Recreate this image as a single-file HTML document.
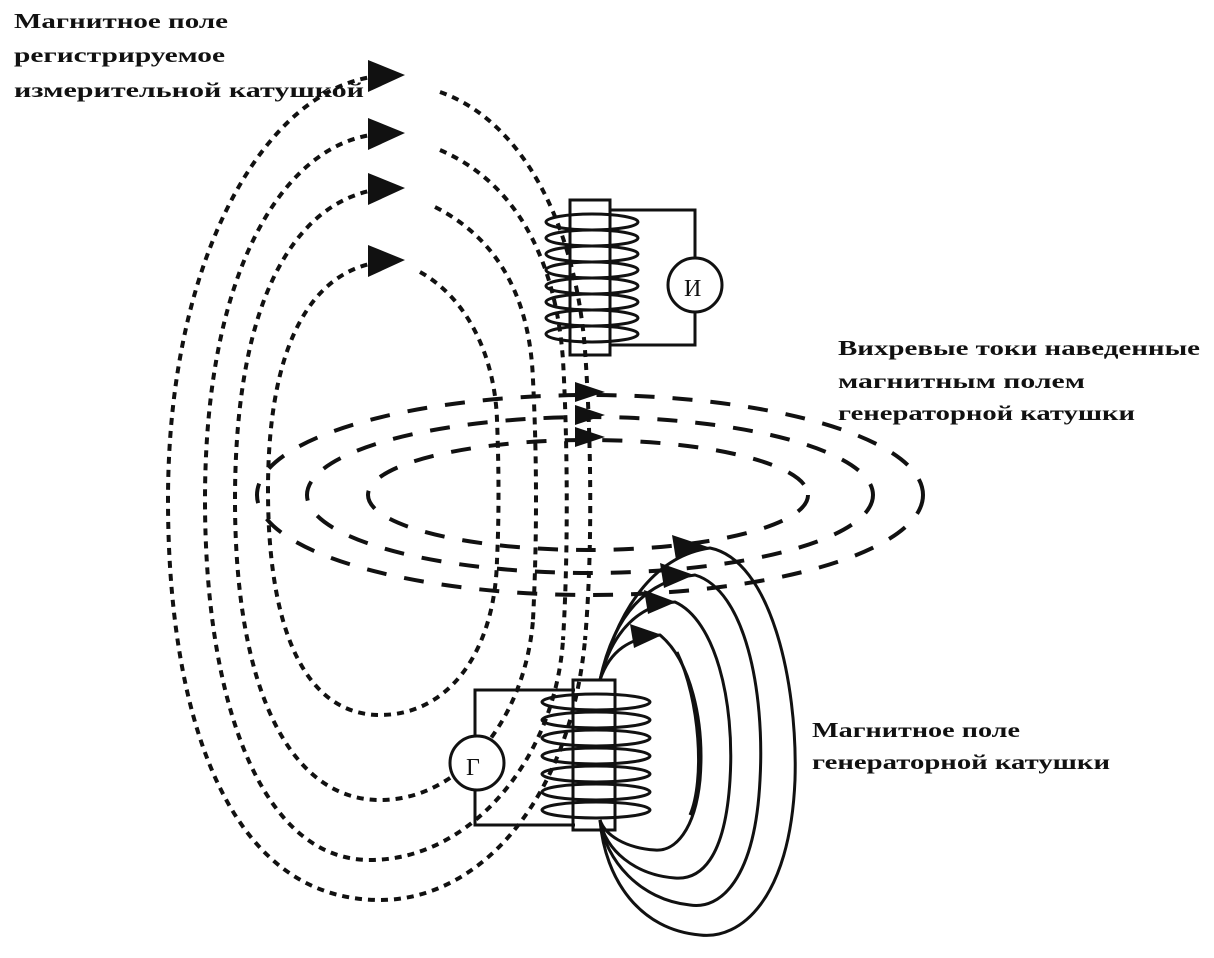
<!DOCTYPE html>
<html><head><meta charset="utf-8"><style>
html,body{margin:0;padding:0;background:#fff}
svg{display:block}
text{font-family:"Liberation Serif","DejaVu Serif",serif;font-weight:bold;font-size:21px;fill:#111}
</style></head><body>
<svg width="1214" height="958" viewBox="0 0 1214 958" xmlns="http://www.w3.org/2000/svg">
<rect width="1214" height="958" fill="#fff"/>
<text x="14" y="28" textLength="214" lengthAdjust="spacingAndGlyphs">Магнитное поле</text>
<text x="14" y="62" textLength="211" lengthAdjust="spacingAndGlyphs">регистрируемое</text>
<text x="14" y="97" textLength="350" lengthAdjust="spacingAndGlyphs">измерительной  катушкой</text>
<text x="838" y="355" textLength="362" lengthAdjust="spacingAndGlyphs">Вихревые токи наведенные</text>
<text x="838" y="388" textLength="247" lengthAdjust="spacingAndGlyphs">магнитным полем</text>
<text x="838" y="420" textLength="297" lengthAdjust="spacingAndGlyphs">генераторной катушки</text>
<text x="812" y="737" textLength="208" lengthAdjust="spacingAndGlyphs">Магнитное поле</text>
<text x="812" y="769" textLength="298" lengthAdjust="spacingAndGlyphs">генераторной катушки</text>

<g fill="none" stroke="#111" stroke-width="4" stroke-dasharray="20 18">
<ellipse cx="590" cy="495" rx="333" ry="100"/>
<ellipse cx="590" cy="495" rx="283" ry="78"/>
<ellipse cx="588" cy="495" rx="220" ry="55"/>
</g>

<g fill="none" stroke="#111" stroke-width="4" stroke-dasharray="7 6">
<path d="M380 76 C270 85 168 250 168 500 C168 700 220 900 380 900 C480 900 570 800 585 640"/>
<path d="M440 92 C520 120 575 220 585 350 C592 450 592 560 585 640"/>
<path d="M380 134 C290 140 205 260 205 500 C205 700 260 860 370 860 C470 860 555 760 563 640"/>
<path d="M440 150 C510 180 555 250 563 360 C568 450 568 560 563 640"/>
<path d="M380 189 C300 200 235 290 235 500 C235 690 290 800 380 800 C460 800 525 720 533 620"/>
<path d="M435 207 C500 240 530 300 533 380 C537 460 537 540 533 620"/>
<path d="M380 262 C320 270 268 330 268 490 C268 640 310 715 380 715 C450 715 495 650 497 560"/>
<path d="M420 272 C470 300 495 360 497 420 C499 470 499 520 497 560"/>
</g>
<g fill="#111">
<polygon points="368,60 405,75 368,92"/>
<polygon points="368,118 405,133 368,150"/>
<polygon points="368,173 405,188 368,205"/>
<polygon points="368,245 405,260 368,277"/>
<polygon points="575,382 605,392 575,402"/>
<polygon points="575,405 605,415 575,425"/>
<polygon points="575,427 605,437 575,447"/>
</g>

<g fill="none" stroke="#111" stroke-width="3">
<rect x="570" y="200" width="40" height="155"/>
<path d="M610 210 H695 V258 M695 312 V345 H610"/>
<circle cx="695" cy="285" r="27"/>
<ellipse cx="592" cy="222" rx="46" ry="8"/>
<ellipse cx="592" cy="238" rx="46" ry="8"/>
<ellipse cx="592" cy="254" rx="46" ry="8"/>
<ellipse cx="592" cy="270" rx="46" ry="8"/>
<ellipse cx="592" cy="286" rx="46" ry="8"/>
<ellipse cx="592" cy="302" rx="46" ry="8"/>
<ellipse cx="592" cy="318" rx="46" ry="8"/>
<ellipse cx="592" cy="334" rx="46" ry="8"/>
</g>
<text x="684" y="296" style="font-size:24px;font-weight:normal">И</text>

<g fill="none" stroke="#111" stroke-width="3">
<rect x="573" y="680" width="42" height="150"/>
<path d="M575 690 H475 V737 M475 790 V825 H575"/>
<circle cx="477" cy="763" r="27" fill="#fff"/>
<ellipse cx="596" cy="702" rx="54" ry="8"/>
<ellipse cx="596" cy="720" rx="54" ry="8"/>
<ellipse cx="596" cy="738" rx="54" ry="8"/>
<ellipse cx="596" cy="756" rx="54" ry="8"/>
<ellipse cx="596" cy="774" rx="54" ry="8"/>
<ellipse cx="596" cy="792" rx="54" ry="8"/>
<ellipse cx="596" cy="810" rx="54" ry="8"/>
</g>
<text x="466" y="775" style="font-size:24px;font-weight:normal">Г</text>

<g fill="none" stroke="#111" stroke-width="3">
<path d="M600 680 C620 600 660 555 710 548 C770 560 798 680 795 780 C790 900 740 940 700 935 C640 930 605 880 600 820"/>
<path d="M600 680 C615 610 650 580 695 575 C745 590 765 690 760 780 C755 880 720 910 690 905 C640 900 605 860 600 820"/>
<path d="M600 680 C612 630 640 605 675 602 C715 620 735 700 730 780 C725 860 700 880 675 878 C635 875 605 850 600 820"/>
<path d="M600 680 C610 650 630 638 660 635 C690 660 705 720 700 780 C695 830 675 852 655 850 C625 848 605 835 600 820"/>
<path d="M677 652 C700 700 705 780 690 815"/>
</g>
<g fill="#111">
<polygon points="672,535 708,547 676,560"/>
<polygon points="660,563 694,575 664,588"/>
<polygon points="644,590 676,602 648,614"/>
<polygon points="630,624 662,635 634,648"/>
</g>
</svg>
</body></html>
